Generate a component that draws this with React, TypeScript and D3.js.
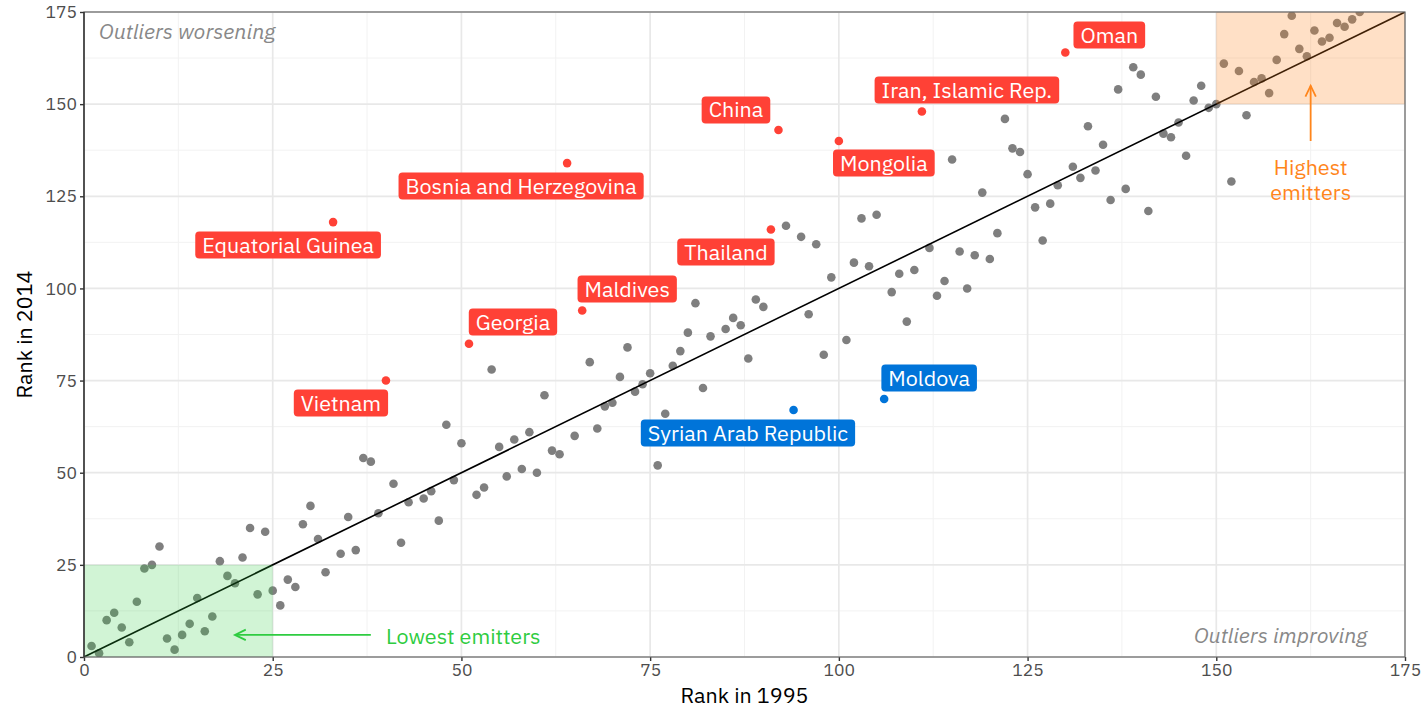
import React, { useEffect, useRef } from "react";
import * as d3 from "d3";

// rank in 1995 / rank in 2014, unlabelled countries
const RANK_1995 = [
  1, 2, 3, 4, 5, 6, 7, 8, 9, 10, 11, 12, 13, 14, 15, 16, 17, 18, 19, 20,
  21, 22, 23, 24, 25, 26, 27, 28, 29, 30, 31, 32, 34, 35, 36, 37, 38, 39, 41, 42,
  43, 45, 46, 47, 48, 49, 50, 52, 53, 54, 55, 56, 57, 58, 59, 60, 61, 62, 63, 65,
  67, 68, 69, 70, 71, 72, 73, 74, 75, 76, 77, 78, 79, 80, 81, 82, 83, 85, 86, 87,
  88, 89, 90, 93, 95, 96, 97, 98, 99, 101, 102, 103, 104, 105, 107, 108, 109, 110, 112, 113,
  114, 115, 116, 117, 118, 119, 120, 121, 122, 123, 124, 125, 126, 127, 128, 129, 131, 132, 133, 134,
  135, 136, 137, 138, 139, 140, 141, 142, 143, 144, 145, 146, 147, 148, 149, 150, 151, 152, 153, 154,
  155, 156, 157, 158, 159, 160, 161, 162, 163, 164, 165, 166, 167, 168, 169,
];
const RANK_2014 = [
  3, 1, 10, 12, 8, 4, 15, 24, 25, 30, 5, 2, 6, 9, 16, 7, 11, 26, 22, 20,
  27, 35, 17, 34, 18, 14, 21, 19, 36, 41, 32, 23, 28, 38, 29, 54, 53, 39, 47, 31,
  42, 43, 45, 37, 63, 48, 58, 44, 46, 78, 57, 49, 59, 51, 61, 50, 71, 56, 55, 60,
  80, 62, 68, 69, 76, 84, 72, 74, 77, 52, 66, 79, 83, 88, 96, 73, 87, 89, 92, 90,
  81, 97, 95, 117, 114, 93, 112, 82, 103, 86, 107, 119, 106, 120, 99, 104, 91, 105, 111, 98,
  102, 135, 110, 100, 109, 126, 108, 115, 146, 138, 137, 131, 122, 113, 123, 128, 133, 130, 144, 132,
  139, 124, 154, 127, 160, 158, 121, 152, 142, 141, 145, 136, 151, 155, 149, 150, 161, 129, 159, 147,
  156, 157, 153, 162, 169, 174, 165, 163, 170, 167, 168, 172, 171, 173, 175,
];

// labelled outliers
const LABEL_NAMES = [
  "Oman", "Iran, Islamic Rep.", "China", "Mongolia", "Bosnia and Herzegovina",
  "Equatorial Guinea", "Thailand", "Maldives", "Georgia", "Vietnam",
  "Syrian Arab Republic", "Moldova",
];
const LABEL_1995 = [130, 111, 92, 100, 64, 33, 91, 66, 51, 40, 94, 106];
const LABEL_2014 = [164, 148, 143, 140, 134, 118, 116, 94, 85, 75, 67, 70];
const LABEL_TREND = [
  "worse", "worse", "worse", "worse", "worse", "worse",
  "worse", "worse", "worse", "worse", "better", "better",
];
// where the repelled label box centre sits relative to its point (px)
const LABEL_DX = [44, 45, -42.5, 45, -46, -45, -45, 45, 44, -45, -45.6, 45];
const LABEL_DY = [-17.5, -21.5, -20, 22, 23, 23, 22.6, -21.5, -21.7, 22.5, 23, -21];

const X_TICKS = [0, 25, 50, 75, 100, 125, 150, 175];
const Y_TICKS = [0, 25, 50, 75, 100, 125, 150, 175];

const RED = "#FF4136";
const BLUE = "#0074D9";
const GREEN = "#2ECC40";
const ORANGE = "#FF851B";
const FONT = "'IBM Plex Sans', 'Noto Sans', sans-serif";
const FS = 21.5;

const W = 1421;
const H = 708;
const margin = { top: 12, right: 16, bottom: 51, left: 84 };

export default function App() {
  const ref = useRef<SVGSVGElement>(null);

  useEffect(() => {
    document.body.style.margin = "0";
    if (!ref.current) return;
    const svg = d3.select(ref.current);
    svg.selectAll("*").remove();

    const x = d3.scaleLinear().domain([0, 175]).range([margin.left, W - margin.right]);
    const y = d3.scaleLinear().domain([0, 175]).range([H - margin.bottom, margin.top]);
    const [x0, x1] = x.range();
    const [y0, y1] = y.range();

    const defs = svg.append("defs");
    defs.append("clipPath").attr("id", "panel")
      .append("rect").attr("x", x0).attr("y", y1).attr("width", x1 - x0).attr("height", y0 - y1);

    // grid
    const minor = d3.range(12.5, 175, 25);
    const grid = svg.append("g");
    minor.forEach((v) => {
      grid.append("line").attr("x1", x(v)).attr("x2", x(v)).attr("y1", y0).attr("y2", y1)
        .attr("stroke", "#f2f2f2").attr("stroke-width", 1);
      grid.append("line").attr("y1", y(v)).attr("y2", y(v)).attr("x1", x0).attr("x2", x1)
        .attr("stroke", "#f2f2f2").attr("stroke-width", 1);
    });
    X_TICKS.forEach((v) => {
      grid.append("line").attr("x1", x(v)).attr("x2", x(v)).attr("y1", y0).attr("y2", y1)
        .attr("stroke", "#e8e8e8").attr("stroke-width", 1.7);
    });
    Y_TICKS.forEach((v) => {
      grid.append("line").attr("y1", y(v)).attr("y2", y(v)).attr("x1", x0).attr("x2", x1)
        .attr("stroke", "#e8e8e8").attr("stroke-width", 1.7);
    });

    const plot = svg.append("g").attr("clip-path", "url(#panel)");

    plot.selectAll("circle.pt")
      .data(RANK_1995)
      .enter()
      .append("circle")
      .attr("class", "pt")
      .attr("cx", (d) => x(d))
      .attr("cy", (_d, i) => y(RANK_2014[i]))
      .attr("r", 4.3)
      .attr("fill", "#7f7f7f");

    plot.append("line")
      .attr("x1", x(0)).attr("y1", y(0)).attr("x2", x(175)).attr("y2", y(175))
      .attr("stroke", "#000").attr("stroke-width", 1.6);

    // highlight boxes
    plot.append("rect")
      .attr("x", x(0)).attr("y", y(25)).attr("width", x(25) - x(0)).attr("height", y(0) - y(25))
      .attr("fill", GREEN).attr("fill-opacity", 0.22);
    plot.append("rect")
      .attr("x", x(150)).attr("y", y(175)).attr("width", x(175) - x(150)).attr("height", y(150) - y(175))
      .attr("fill", ORANGE).attr("fill-opacity", 0.25);

    plot.selectAll("circle.hl")
      .data(LABEL_1995)
      .enter()
      .append("circle")
      .attr("class", "hl")
      .attr("cx", (d) => x(d))
      .attr("cy", (_d, i) => y(LABEL_2014[i]))
      .attr("r", 4.3)
      .attr("fill", (_d, i) => (LABEL_TREND[i] === "worse" ? RED : BLUE));

    // annotations
    const arrow = (xa: number, ya: number, xb: number, yb: number, col: string) => {
      const g = svg.append("g").attr("stroke", col).attr("stroke-width", 1.8).attr("fill", "none");
      g.append("line").attr("x1", xa).attr("y1", ya).attr("x2", xb).attr("y2", yb);
      const ang = Math.atan2(yb - ya, xb - xa);
      const len = 12;
      const spread = Math.PI / 7;
      const p1 = [xb - len * Math.cos(ang - spread), yb - len * Math.sin(ang - spread)];
      const p2 = [xb - len * Math.cos(ang + spread), yb - len * Math.sin(ang + spread)];
      g.append("polyline").attr("points", `${p1} ${xb},${yb} ${p2}`);
    };
    arrow(x(38), y(6), x(20), y(6), GREEN);
    arrow(x(162.5), y(140), x(162.5), y(155), ORANGE);

    svg.append("text")
      .attr("x", x(40)).attr("y", y(5.7)).attr("dy", "0.35em")
      .attr("font-family", FONT).attr("font-size", FS).attr("fill", GREEN)
      .text("Lowest emitters");
    const hi = svg.append("text")
      .attr("x", x(162.5)).attr("y", y(132.9)).attr("text-anchor", "middle")
      .attr("font-family", FONT).attr("font-size", FS).attr("fill", ORANGE);
    hi.append("tspan").attr("x", x(162.5)).attr("dy", "0.35em").text("Highest");
    hi.append("tspan").attr("x", x(162.5)).attr("dy", "1.2em").text("emitters");

    svg.append("text")
      .attr("x", x(2)).attr("y", y(169.8)).attr("dy", "0.35em")
      .attr("font-family", FONT).attr("font-size", FS).attr("font-style", "italic").attr("fill", "#888")
      .text("Outliers worsening");
    svg.append("text")
      .attr("x", x(170)).attr("y", y(5.8)).attr("dy", "0.35em").attr("text-anchor", "end")
      .attr("font-family", FONT).attr("font-size", FS).attr("font-style", "italic").attr("fill", "#888")
      .text("Outliers improving");

    // country labels
    LABEL_NAMES.forEach((name, i) => {
      const cx = x(LABEL_1995[i]) + LABEL_DX[i];
      const cy = y(LABEL_2014[i]) + LABEL_DY[i];
      const g = svg.append("g");
      const rect = g.append("rect")
        .attr("rx", 4).attr("ry", 4)
        .attr("fill", LABEL_TREND[i] === "worse" ? RED : BLUE);
      const t = g.append("text")
        .attr("x", cx).attr("y", cy).attr("dy", "0.35em").attr("text-anchor", "middle")
        .attr("font-family", FONT).attr("font-size", FS).attr("fill", "#fff")
        .text(name);
      const tw = (t.node() as SVGTextElement).getComputedTextLength();
      const bw = tw + 14;
      rect.attr("x", cx - bw / 2).attr("y", cy - 13.5).attr("width", bw).attr("height", 27);
    });

    // axes
    const xAxis = svg.append("g").attr("transform", `translate(0,${y0})`)
      .call(d3.axisBottom(x).tickValues(X_TICKS).tickSize(4).tickPadding(3));
    const yAxis = svg.append("g").attr("transform", `translate(${x0},0)`)
      .call(d3.axisLeft(y).tickValues(Y_TICKS).tickSize(4).tickPadding(3));
    [xAxis, yAxis].forEach((a) => {
      a.select(".domain").remove();
      a.selectAll(".tick line").attr("stroke", "#333").attr("stroke-width", 1.4);
      a.selectAll(".tick text").attr("font-family", FONT).attr("font-size", 17.5).attr("fill", "#4d4d4d");
    });

    // panel border
    svg.append("rect")
      .attr("x", x0).attr("y", y1).attr("width", x1 - x0).attr("height", y0 - y1)
      .attr("fill", "none").attr("stroke", "#666").attr("stroke-width", 1.2);
    svg.append("line").attr("x1", x0).attr("x2", x0).attr("y1", y1).attr("y2", y0)
      .attr("stroke", "#222").attr("stroke-width", 1.2);

    svg.append("text")
      .attr("x", (x0 + x1) / 2).attr("y", 703).attr("text-anchor", "middle")
      .attr("font-family", FONT).attr("font-size", FS).attr("fill", "#000")
      .text("Rank in 1995");
    svg.append("text")
      .attr("transform", `translate(32,${(y0 + y1) / 2}) rotate(-90)`)
      .attr("text-anchor", "middle")
      .attr("font-family", FONT).attr("font-size", FS).attr("fill", "#000")
      .text("Rank in 2014");
  }, []);

  return <svg ref={ref} width={W} height={H} style={{ display: "block" }} />;
}
